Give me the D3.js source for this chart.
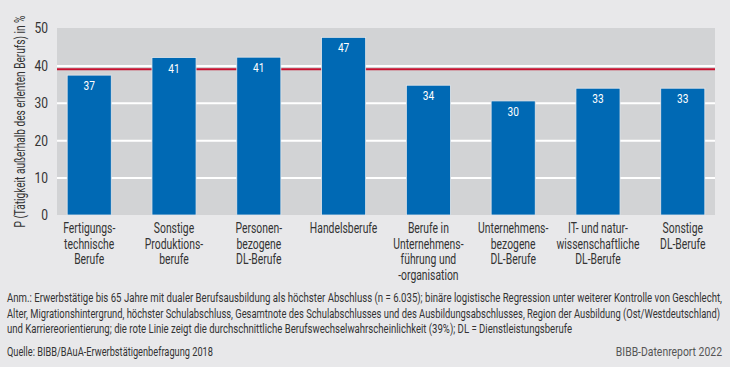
<!DOCTYPE html>
<html>
<head>
<meta charset="utf-8">
<script src="https://cdn.jsdelivr.net/npm/d3@7"></script>
<style>
  body { margin: 0; background: #e8e8ea; }
  svg { display: block; }
</style>
</head>
<body>
<script>
// Berufsgruppen (x-Achse), mehrzeilig
var categories = [
  ["Fertigungs-", "technische", "Berufe"],
  ["Sonstige", "Produktions-", "berufe"],
  ["Personen-", "bezogene", "DL-Berufe"],
  ["Handelsberufe"],
  ["Berufe in", "Unternehmens-", "führung und", "-organisation"],
  ["Unternehmens-", "bezogene", "DL-Berufe"],
  ["IT- und natur-", "wissenschaftliche", "DL-Berufe"],
  ["Sonstige", "DL-Berufe"]
];
// Balkenhöhen
var values = [37.4, 42.1, 42.2, 47.5, 34.7, 30.5, 33.9, 33.9];
// beschriftete Werte
var valueLabels = ["37", "41", "41", "47", "34", "30", "33", "33"];
var average = 39;
var yTicks = [0, 10, 20, 30, 40, 50];

var yTitle = "P (Tätigkeit außerhalb des erlenten Berufs) in %";
var noteLines = [
  "Anm.: Erwerbstätige bis 65 Jahre mit dualer Berufsausbildung als höchster Abschluss (n = 6.035); binäre logistische Regression unter weiterer Kontrolle von Geschlecht,",
  "Alter, Migrationshintergrund, höchster Schulabschluss, Gesamtnote des Schulabschlusses und des Ausbildungsabschlusses, Region der Ausbildung (Ost/Westdeutschland)",
  "und Karriereorientierung; die rote Linie zeigt die durchschnittliche Berufswechselwahrscheinlichkeit (39%); DL = Dienstleistungsberufe"
];
var noteWidths = [715, 713, 565];
var source = "Quelle: BIBB/BAuA-Erwerbstätigenbefragung 2018";
var credit = "BIBB-Datenreport 2022";

var W = 730, H = 367;
var font = "Roboto, 'Liberation Sans', sans-serif";
var textColor = "#333";

// schmale Schrift nachbilden: Text horizontal stauchen
function squeeze(sel, k) {
  sel.each(function() {
    var w = this.getComputedTextLength();
    d3.select(this)
      .attr("textLength", w * k)
      .attr("lengthAdjust", "spacingAndGlyphs");
  });
}

var svg = d3.select("body").append("svg")
  .attr("width", W)
  .attr("height", H)
  .style("font-family", font);

svg.append("rect")
  .attr("width", W).attr("height", H)
  .attr("fill", "#e8e8ea");

var plot = {left: 57, right: 715, top: 28, bottom: 215};

var x = d3.scaleBand()
  .domain(d3.range(categories.length))
  .range([plot.left, plot.right])
  .paddingInner(0.48)
  .paddingOuter(0.12);

var y = d3.scaleLinear()
  .domain([0, 50])
  .range([plot.bottom, plot.top]);

// Plotfläche
svg.append("rect")
  .attr("x", plot.left)
  .attr("y", plot.top)
  .attr("width", plot.right - plot.left)
  .attr("height", plot.bottom - plot.top)
  .attr("fill", "#d2d3d5");

// Gitterlinien + y-Achse
var yAxis = svg.append("g")
  .attr("transform", "translate(" + plot.left + ",0)")
  .call(d3.axisLeft(y).tickValues(yTicks).tickSize(-(plot.right - plot.left)).tickPadding(9));
yAxis.select(".domain").remove();
yAxis.selectAll(".tick line")
  .attr("stroke", "#fff")
  .attr("stroke-width", 2)
  .attr("opacity", function(d) { return d === 0 || d === 50 ? 0 : 1; });
yAxis.selectAll(".tick text")
  .attr("fill", textColor)
  .style("font-family", font)
  .style("font-size", "15px")
  .call(squeeze, 0.8);

// Durchschnittslinie
svg.append("line")
  .attr("x1", plot.left).attr("x2", plot.right)
  .attr("y1", y(average)).attr("y2", y(average))
  .attr("stroke", "#c8102e")
  .attr("stroke-width", 2);

// Balken
svg.selectAll(".bar")
  .data(values)
  .enter().append("rect")
  .attr("class", "bar")
  .attr("x", function(d, i) { return x(i); })
  .attr("y", function(d) { return y(d); })
  .attr("width", x.bandwidth())
  .attr("height", function(d) { return y(0) - y(d); })
  .attr("fill", "#0069b4")
  .attr("stroke", "#e4e6ea")
  .attr("stroke-width", 0.8);

svg.selectAll(".val")
  .data(values)
  .enter().append("text")
  .attr("class", "val")
  .attr("x", function(d, i) { return x(i) + x.bandwidth() / 2; })
  .attr("y", function(d) { return y(d) + 15; })
  .attr("text-anchor", "middle")
  .attr("fill", "#fff")
  .style("font-size", "13.5px")
  .text(function(d, i) { return valueLabels[i]; })
  .call(squeeze, 0.75);

// x-Beschriftung, eine Textzeile je Element
categories.forEach(function(lines, i) {
  lines.forEach(function(l, j) {
    svg.append("text")
      .attr("x", x(i) + x.bandwidth() / 2)
      .attr("y", 233 + j * 15.7)
      .attr("text-anchor", "middle")
      .attr("fill", textColor)
      .style("font-size", "14px")
      .text(l)
      .call(squeeze, 0.74);
  });
});

// y-Titel
svg.append("text")
  .attr("transform", "translate(25," + ((plot.top + plot.bottom) / 2) + ")rotate(-90)")
  .attr("text-anchor", "middle")
  .attr("fill", textColor)
  .style("font-size", "14px")
  .attr("textLength", 212)
  .attr("lengthAdjust", "spacingAndGlyphs")
  .text(yTitle);

// Anmerkung und Quelle
noteLines.forEach(function(l, i) {
  svg.append("text")
    .attr("x", 7)
    .attr("y", 302 + i * 15.7)
    .attr("fill", textColor)
    .style("font-size", "13px")
    .attr("textLength", noteWidths[i])
    .attr("lengthAdjust", "spacingAndGlyphs")
    .text(l);
});
svg.append("text")
  .attr("x", 7).attr("y", 356)
  .attr("fill", textColor)
  .style("font-size", "13px")
  .attr("textLength", 206)
  .attr("lengthAdjust", "spacingAndGlyphs")
  .text(source);
svg.append("text")
  .attr("x", 722).attr("y", 356)
  .attr("text-anchor", "end")
  .attr("fill", "#555")
  .style("font-size", "13px")
  .text(credit)
  .call(squeeze, 0.8);
</script>
</body>
</html>
